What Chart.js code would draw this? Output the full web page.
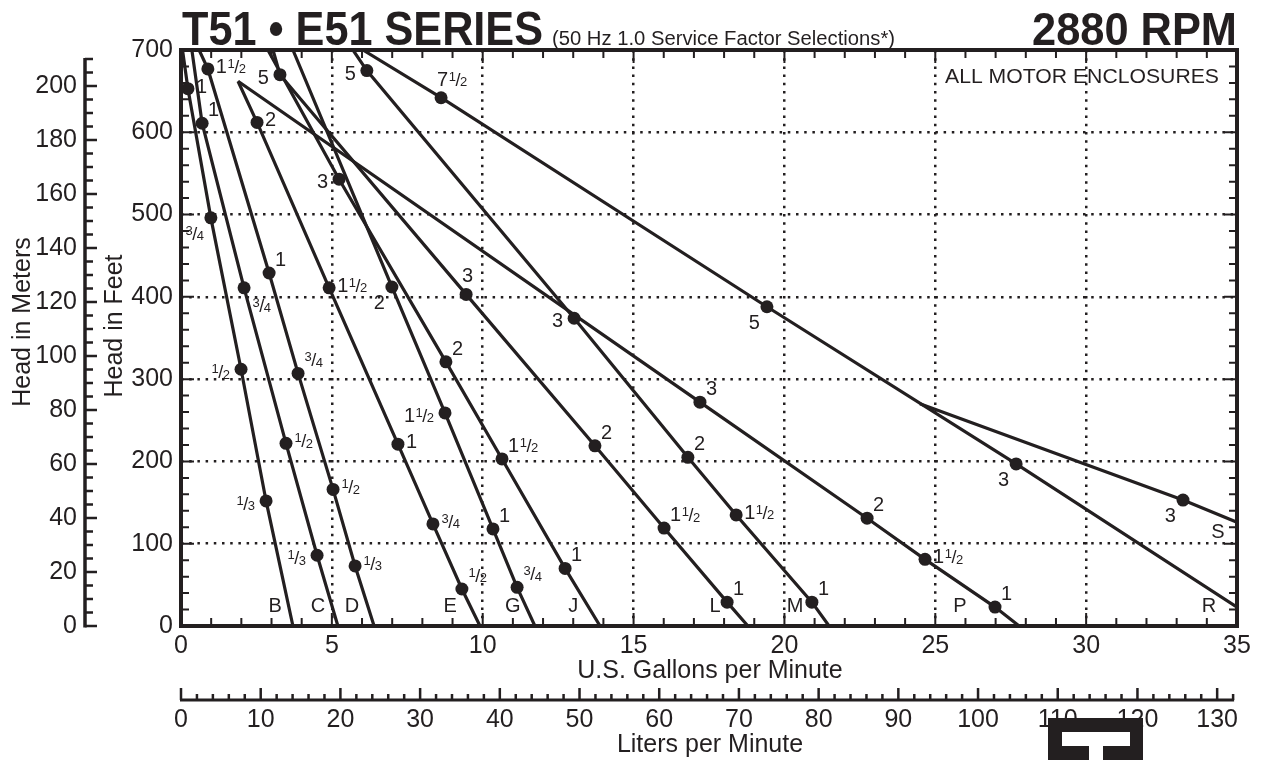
<!DOCTYPE html>
<html>
<head>
<meta charset="utf-8">
<title>T51 E51 Series 2880 RPM</title>
<script src="https://cdn.jsdelivr.net/npm/chart.js@4.4.1/dist/chart.umd.min.js"></script>
<style>
  html, body { margin: 0; padding: 0; background: #fff; }
  canvas { display: block; }
</style>
</head>
<body>
<canvas id="pumpChart" width="1262" height="760"></canvas>
<script>
// Pump curves, flow in US gpm and head in feet
const curveNames = ['B', 'C', 'D', 'E', 'G', 'J', 'L', 'M', 'P', 'R', 'S'];

const gpmB = [0.05, 0.23, 0.99, 1.99, 2.82, 3.71];
const ftB  = [700, 653, 496, 312, 152, 0];
const hpB  = ['', '1', '3/4', '1/2', '1/3', ''];

const gpmC = [0.36, 0.70, 2.09, 3.48, 4.51, 5.20];
const ftC  = [700, 611, 411, 222, 86, 0];
const hpC  = ['', '1', '3/4', '1/2', '1/3', ''];

const gpmD = [0.60, 0.89, 2.92, 3.88, 5.04, 5.77, 6.40];
const ftD  = [700, 677, 429, 307, 166, 73, 0];
const hpD  = ['', '1 1/2', '1', '3/4', '1/2', '1/3', ''];

const gpmE = [1.89, 2.52, 4.91, 7.19, 8.35, 9.31, 9.91];
const ftE  = [662, 612, 411, 221, 124, 45, 0];
const hpE  = ['', '2', '1 1/2', '1', '3/4', '1/2', ''];

const gpmG = [3.71, 6.99, 8.75, 10.34, 11.14, 11.73];
const ftG  = [700, 412, 259, 118, 47, 0];
const hpG  = ['', '2', '1 1/2', '1', '3/4', ''];

const gpmJ = [2.88, 5.24, 8.78, 10.64, 12.73, 13.89];
const ftJ  = [700, 543, 321, 203, 70, 0];
const hpJ  = ['', '3', '2', '1 1/2', '1', ''];

const gpmL = [3.05, 3.28, 9.45, 13.72, 16.01, 18.10, 18.79];
const ftL  = [700, 670, 403, 219, 119, 29, 0];
const hpL  = ['', '5', '3', '2', '1 1/2', '1', ''];

const gpmM = [5.70, 6.16, 13.03, 16.80, 18.40, 20.91, 21.48];
const ftM  = [700, 675, 374, 205, 135, 29, 0];
const hpM  = ['', '5', '3', '2', '1 1/2', '1', ''];

const gpmP = [1.89, 17.20, 22.74, 24.66, 26.98, 27.78];
const ftP  = [662, 272, 131, 81, 23, 0];
const hpP  = ['', '3', '2', '1 1/2', '1', ''];

const gpmR = [6.03, 8.62, 19.42, 27.68, 35];
const ftR  = [700, 642, 388, 197, 23];
const hpR  = ['', '7 1/2', '5', '3', ''];

const gpmS = [24.49, 33.21, 35];
const ftS  = [270, 153, 126];
const hpS  = ['', '3', ''];

// where each curve letter sits (gpm, ft)
const letterGpm = [3.12, 4.54, 5.67, 8.92, 11.0, 13.0, 17.7, 20.35, 25.82, 34.07, 34.37];
const letterFt  = [24, 24, 24, 24, 24, 24, 24, 24, 24, 24, 114];

// axis tick labels
const gpmTicks   = [0, 5, 10, 15, 20, 25, 30, 35];
const footTicks  = [0, 100, 200, 300, 400, 500, 600, 700];
const meterTicks = [0, 20, 40, 60, 80, 100, 120, 140, 160, 180, 200];
const literTicks = [0, 10, 20, 30, 40, 50, 60, 70, 80, 90, 100, 110, 120, 130];

// which side of the dot each horsepower label goes
const spotB = ['', 'r', 'bl', 'l', 'l', ''];
const spotC = ['', 'ar', 'br', 'r', 'l', ''];
const spotD = ['', 'r', 'ar', 'ar', 'r', 'r', ''];
const spotE = ['', 'r', 'r', 'r', 'r', 'ar', ''];
const spotG = ['', 'bl', 'l', 'ar', 'ar', ''];
const spotJ = ['', 'l', 'ar', 'ar', 'ar', ''];
const spotL = ['', 'l', 'a', 'ar', 'ar', 'ar', ''];
const spotM = ['', 'l', 'l', 'ar', 'r', 'ar', ''];
const spotP = ['', 'ar', 'ar', 'r', 'ar', ''];
const spotR = ['', 'a', 'bl', 'bl', ''];
const spotS = ['', 'bl', ''];

const ink = '#231f20';
const family = '"Liberation Sans", Arial, Helvetica, sans-serif';
const FT_TO_M = 0.3048;
const GPM_TO_LPM = 3.785411784;

Chart.defaults.font.family = family;
Chart.defaults.color = ink;

const curves = [
    { gpm: gpmB, ft: ftB, hp: hpB, spot: spotB },
    { gpm: gpmC, ft: ftC, hp: hpC, spot: spotC },
    { gpm: gpmD, ft: ftD, hp: hpD, spot: spotD },
    { gpm: gpmE, ft: ftE, hp: hpE, spot: spotE },
    { gpm: gpmG, ft: ftG, hp: hpG, spot: spotG },
    { gpm: gpmJ, ft: ftJ, hp: hpJ, spot: spotJ },
    { gpm: gpmL, ft: ftL, hp: hpL, spot: spotL },
    { gpm: gpmM, ft: ftM, hp: hpM, spot: spotM },
    { gpm: gpmP, ft: ftP, hp: hpP, spot: spotP },
    { gpm: gpmR, ft: ftR, hp: hpR, spot: spotR },
    { gpm: gpmS, ft: ftS, hp: hpS, spot: spotS }
];

const spotOffsets = {
    r:  [8, -3, 'left'],
    l:  [-11, 2, 'right'],
    ar: [6, -14, 'left'],
    br: [8, 17, 'left'],
    bl: [-7, 15, 'right'],
    a:  [-4, -19, 'left']
};

// squeeze or stretch a string to a measured width
function fitText(ctx, text, x, y, font, width, align) {
    ctx.save();
    ctx.font = font;
    const k = width ? width / ctx.measureText(text).width : 1;
    ctx.translate(x, y);
    ctx.scale(k, 1);
    ctx.textAlign = align || 'left';
    ctx.fillText(text, 0, 0);
    ctx.restore();
}

// horsepower label with a small stacked fraction, like 1 1/2
function drawHp(ctx, text, x, y, align) {
    const pieces = [];
    text.split(' ').forEach(bit => {
        if (bit.includes('/')) {
            const [n, d] = bit.split('/');
            pieces.push({ t: n, size: 13, dy: 2, kern: 0.5 });
            pieces.push({ t: '/', size: 18, dy: 7, kern: -0.5 });
            pieces.push({ t: d, size: 13, dy: 7.5, kern: -0.5 });
        } else {
            pieces.push({ t: bit, size: 20, dy: 7, kern: 0 });
        }
    });
    let total = 0;
    pieces.forEach(p => {
        ctx.font = p.size + 'px ' + family;
        p.w = ctx.measureText(p.t).width;
        total += p.w + p.kern;
    });
    let cx = align === 'right' ? x - total : x;
    ctx.textAlign = 'left';
    ctx.textBaseline = 'alphabetic';
    pieces.forEach(p => {
        cx += p.kern;
        ctx.font = p.size + 'px ' + family;
        ctx.fillText(p.t, cx, y + p.dy);
        cx += p.w;
    });
}

const decorPlugin = {
    id: 'decor',
    afterDraw(chart) {
        const { ctx, chartArea: a, scales } = chart;
        const x = scales.x, y = scales.y, m = scales.m, lpm = scales.lpm;
        ctx.save();
        ctx.strokeStyle = ink;
        ctx.fillStyle = ink;

        // inward ticks round the plot frame
        ctx.lineWidth = 2;
        ctx.beginPath();
        for (let g = 1; g < 35; g++) {
            const px = x.getPixelForValue(g);
            const len = g % 5 === 0 ? 13 : 8;
            ctx.moveTo(px, a.bottom); ctx.lineTo(px, a.bottom - len);
            ctx.moveTo(px, a.top); ctx.lineTo(px, a.top + len);
        }
        for (let f = 20; f < 700; f += 20) {
            const py = y.getPixelForValue(f);
            const len = f % 100 === 0 ? 13 : 8;
            ctx.moveTo(a.left, py); ctx.lineTo(a.left + len, py);
            ctx.moveTo(a.right, py); ctx.lineTo(a.right - len, py);
        }
        ctx.stroke();

        ctx.lineWidth = 4;
        ctx.strokeRect(a.left, a.top, a.right - a.left, a.bottom - a.top);

        // meters axis on the far left
        const mx = 85;
        const mTop = 210;
        ctx.lineWidth = 3.5;
        ctx.beginPath();
        ctx.moveTo(mx, m.getPixelForValue(0) + 1.5);
        ctx.lineTo(mx, m.getPixelForValue(mTop) - 1);
        ctx.stroke();
        ctx.lineWidth = 2.5;
        ctx.beginPath();
        for (let v = 0; v <= mTop; v += 5) {
            const py = m.getPixelForValue(v);
            ctx.moveTo(mx, py);
            ctx.lineTo(mx + (v % 20 === 0 ? 12 : 8), py);
        }
        ctx.stroke();
        ctx.font = '25px ' + family;
        ctx.textAlign = 'right';
        ctx.textBaseline = 'middle';
        meterTicks.forEach(v => ctx.fillText(String(v), 77, m.getPixelForValue(v)));

        // liters axis under the plot
        const ly = 700;
        const lEnd = 132;
        ctx.lineWidth = 3;
        ctx.beginPath();
        ctx.moveTo(lpm.getPixelForValue(0) - 1, ly);
        ctx.lineTo(lpm.getPixelForValue(lEnd) + 1, ly);
        ctx.stroke();
        ctx.lineWidth = 2.5;
        ctx.beginPath();
        for (let v = 0; v <= lEnd; v += 2) {
            const px = lpm.getPixelForValue(v);
            ctx.moveTo(px, ly);
            ctx.lineTo(px, ly - (v % 10 === 0 ? 12 : 6));
        }
        ctx.stroke();
        ctx.textAlign = 'center';
        ctx.textBaseline = 'alphabetic';
        literTicks.forEach(v => ctx.fillText(String(v), lpm.getPixelForValue(v), 727));

        // axis titles
        ctx.font = '25px ' + family;
        ctx.fillText('U.S. Gallons per Minute', 710, 678);
        ctx.fillText('Liters per Minute', 710, 752);
        ctx.textBaseline = 'middle';
        [['Head in Meters', 23, 322], ['Head in Feet', 115, 326]].forEach(([t, tx, ty]) => {
            ctx.save();
            ctx.translate(tx, ty);
            ctx.rotate(-Math.PI / 2);
            ctx.fillText(t, 0, 0);
            ctx.restore();
        });

        // heading
        ctx.textBaseline = 'alphabetic';
        fitText(ctx, 'T51 \u2022 E51 SERIES', 182, 45, 'bold 49px ' + family, 361, 'left');
        fitText(ctx, '(50 Hz 1.0 Service Factor Selections*)', 552, 45, '20px ' + family, 343, 'left');
        fitText(ctx, '2880 RPM', 1237, 45, 'bold 47px ' + family, 205, 'right');
        fitText(ctx, 'ALL MOTOR ENCLOSURES', 945, 83, '20px ' + family, 274, 'left');

        // curve letters
        ctx.font = '20px ' + family;
        ctx.textAlign = 'center';
        ctx.textBaseline = 'middle';
        curveNames.forEach((n, i) => {
            ctx.fillText(n, x.getPixelForValue(letterGpm[i]), y.getPixelForValue(letterFt[i]));
        });

        // horsepower labels beside the dots
        curves.forEach(c => {
            c.hp.forEach((h, i) => {
                if (!h) return;
                const [dx, dy, align] = spotOffsets[c.spot[i]];
                drawHp(ctx, h, x.getPixelForValue(c.gpm[i]) + dx, y.getPixelForValue(c.ft[i]) + dy, align);
            });
        });

        // logo block, bottom right
        ctx.fillStyle = ink;
        ctx.fillRect(1048, 718, 95, 42);
        ctx.fillStyle = '#fff';
        ctx.fillRect(1062, 732, 68, 14);
        ctx.fillRect(1089, 746, 14, 14);

        ctx.restore();
    }
};

const datasets = curves.map((c, k) => ({
    label: curveNames[k],
    data: c.gpm.map((g, i) => ({ x: g, y: c.ft[i] })),
    showLine: true,
    borderColor: ink,
    borderWidth: 3.2,
    pointRadius: c.hp.map(h => (h ? 6.5 : 0)),
    pointHoverRadius: c.hp.map(h => (h ? 6.5 : 0)),
    pointBackgroundColor: ink,
    pointBorderWidth: 0,
    tension: 0
}));

const dotted = { display: false, dash: [2.5, 5.7] };

new Chart(document.getElementById('pumpChart'), {
    type: 'scatter',
    data: { datasets: datasets },
    options: {
        responsive: false,
        animation: false,
        events: [],
        layout: { padding: { left: 0, top: 50, right: 25, bottom: 74 } },
        plugins: { legend: { display: false }, tooltip: { enabled: false } },
        scales: {
            x: {
                type: 'linear',
                position: 'bottom',
                weight: 0,
                min: 0,
                max: 35,
                afterBuildTicks: s => { s.ticks = gpmTicks.map(v => ({ value: v })); },
                afterFit: s => { s.height = 60; },
                ticks: { font: { size: 25 }, padding: 5, maxRotation: 0, autoSkip: false },
                grid: { color: ink, lineWidth: 2.5, drawTicks: false },
                border: dotted
            },
            lpm: {
                type: 'linear',
                position: 'bottom',
                weight: 1,
                display: false,
                min: 0,
                max: 35 * GPM_TO_LPM
            },
            y: {
                type: 'linear',
                position: 'left',
                weight: 0,
                min: 0,
                max: 700,
                afterBuildTicks: s => { s.ticks = footTicks.map(v => ({ value: v })); },
                afterFit: s => { s.width = 181; },
                ticks: { font: { size: 25 }, padding: 8 },
                grid: { color: ink, lineWidth: 2.5, drawTicks: false },
                border: dotted
            },
            m: {
                type: 'linear',
                position: 'left',
                weight: 1,
                display: false,
                min: 0,
                max: 700 * FT_TO_M
            }
        }
    },
    plugins: [decorPlugin]
});
</script>
</body>
</html>
